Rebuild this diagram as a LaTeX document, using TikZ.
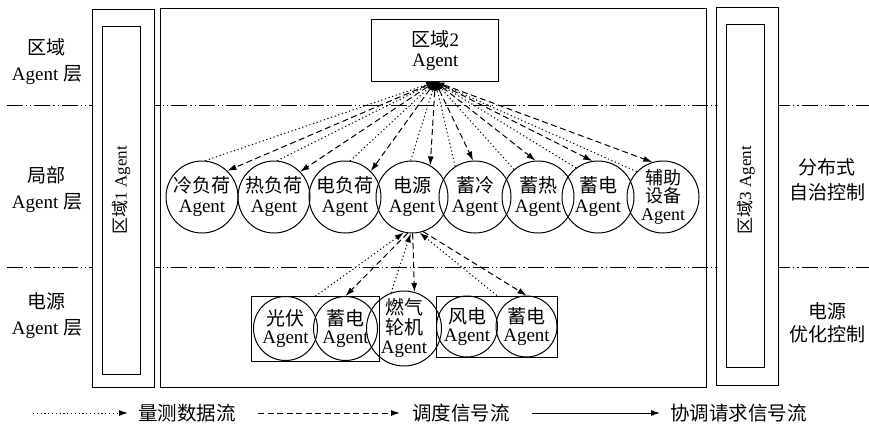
\documentclass[tikz,border=0pt]{standalone}
\usepackage{fontspec}
\setmainfont{Liberation Serif}
\newfontfamily\cjk{Noto Sans CJK SC}
\usetikzlibrary{arrows.meta}
\newcommand{\zh}[1]{{\cjk #1}}
\tikzset{
 box/.style={draw, line width=1pt, inner sep=0pt},
 wbox/.style={box, fill=white},
 agent/.style={circle, draw, line width=1pt, inner sep=0pt, minimum size=72pt, align=center, font=\fontsize{19}{20}\selectfont},
 agentsm/.style={agent, minimum size=64pt, font=\fontsize{19}{18}\selectfont},
 tipst/.style={-{Latex[length=9pt,width=6pt]}},
 meas/.style={tipst, line width=1pt, dash pattern=on 1.2pt off 2.6pt},
 disp/.style={tipst, line width=1pt, dash pattern=on 6pt off 3.5pt},
 coordl/.style={tipst, line width=1pt},
 layer/.style={line width=1pt, dash pattern=on 16pt off 3pt on 1.2pt off 3pt on 1.2pt off 3pt},
 lbl/.style={align=center, font=\fontsize{19}{26}\selectfont},
 leg/.style={anchor=west, inner sep=0pt, font=\fontsize{19.5}{20}\selectfont},
}
\begin{document}
\begin{tikzpicture}[x=1pt,y=-1pt]
\useasboundingbox (0,0) rectangle (869,425);
% central region box
\node[box, minimum width=546pt, minimum height=378pt] (zone2) at (433,198) {};
% layer separators
\draw[layer] (7,105.3) -- (869,105.3);
\draw[layer] (7,267.7) -- (869,267.7);
% side region boxes
\node[wbox, minimum width=61.3pt, minimum height=377.7pt] (z1o) at (123.35,198.15) {};
\node[box, minimum width=37.3pt, minimum height=348pt] (z1i) at (121.35,200.7) {};
\node[rotate=90, font=\fontsize{17}{20}\selectfont] (z1t) at (121.35,190) {\zh{区域}1 Agent};
\node[wbox, minimum width=61.3pt, minimum height=378.4pt] (z3o) at (747.35,196.5) {};
\node[box, minimum width=38pt, minimum height=342.7pt] (z3i) at (745.7,195.65) {};
\node[rotate=90, font=\fontsize{17}{20}\selectfont] (z3t) at (745.7,190) {\zh{区域}3 Agent};
% side labels
\node[lbl] (L1) at (47,62) {\zh{区域}\\Agent \zh{层}};
\node[lbl] (L2) at (47,190) {\zh{局部}\\Agent \zh{层}};
\node[lbl] (L3) at (47,316) {\zh{电源}\\Agent \zh{层}};
\node[lbl, font=\fontsize{19}{25}\selectfont] (R1) at (827,180) {\zh{分布式}\\\zh{自治控制}};
\node[lbl, font=\fontsize{19}{23}\selectfont] (R2) at (827,323) {\zh{电源}\\\zh{优化控制}};
% region 2 agent
\node[box, minimum width=127pt, minimum height=62pt, align=center, font=\fontsize{19}{20}\selectfont] (r2) at (435.3,50.2) {\zh{区域}2\\Agent};
% local agents
\node[agent] (c1) at (202,197) {\zh{冷负荷}\\Agent};
\node[agent] (c2) at (274,197) {\zh{热负荷}\\Agent};
\node[agent] (c3) at (345,197) {\zh{电负荷}\\Agent};
\node[agent] (dy) at (412,197) {\zh{电源}\\Agent};
\node[agent] (c5) at (475,197) {\zh{蓄冷}\\Agent};
\node[agent] (c6) at (538,197) {\zh{蓄热}\\Agent};
\node[agent] (c7) at (598,197) {\zh{蓄电}\\Agent};
\node[agent, font=\fontsize{18}{18}\selectfont] (c8) at (663,197) {\zh{辅助}\\\zh{设备}\\Agent};
% power agents
\node[box, minimum width=127.3pt, minimum height=64.3pt] (g1) at (315.35,328.85) {};
\node[box, minimum width=120.3pt, minimum height=61pt] (g2) at (496.85,326.5) {};
\node[agentsm] (pv) at (285.5,328.5) {\zh{光伏}\\Agent};
\node[agentsm] (st1) at (345.5,328.5) {\zh{蓄电}\\Agent};
\node[agentsm, font=\fontsize{19}{19.5}\selectfont] (gas) at (404,328.5) {\zh{燃气}\\\zh{轮机}\\Agent};
\node[agentsm, minimum size=61pt] (wd) at (467,326.5) {\zh{风电}\\Agent};
\node[agentsm, minimum size=61pt] (st2) at (526.5,326.5) {\zh{蓄电}\\Agent};
% fan: region 2 <-> local agents
\draw[meas] (c1.85) -- (r2.south);
\draw[disp] (r2.south) -- (c1.46);
\draw[meas] (c2.85) -- (r2.south);
\draw[disp] (r2.south) -- (c2.44);
\draw[meas] (c3.82) -- (r2.south);
\draw[disp] (r2.south) -- (c3.45);
\draw[meas] (dy.92) -- (r2.south);
\draw[disp] (r2.south) -- (dy.60);
\draw[meas] (c5.123) -- (r2.south);
\draw[disp] (r2.south) -- (c5.93);
\draw[meas] (c6.131) -- (r2.south);
\draw[disp] (r2.south) -- (c6.94);
\draw[meas] (c7.127) -- (r2.south);
\draw[disp] (r2.south) -- (c7.99);
\draw[meas] (c8.136) -- (r2.south);
\draw[disp] (r2.south) -- (c8.107);
% power agents <-> 电源 agent
\draw[meas] (g1.north) -- (dy.-103);
\draw[disp] (dy.-97) -- (st1.north);
\draw[meas] (gas.110) -- (dy.-92);
\draw[disp] (dy.-89) -- (gas.74);
\draw[meas] (g2.north) -- (dy.-78);
\draw[disp] (dy.-72) -- (st2.north);
% legend
\coordinate (m0) at (33,413); \coordinate (m1) at (128,413);
\draw[meas] (m0) -- (m1);
\node[leg] (mt) at (138,413) {\zh{量测数据流}};
\coordinate (d0) at (258,413); \coordinate (d1) at (400,413);
\draw[disp] (d0) -- (d1);
\node[leg] (dt) at (412,413) {\zh{调度信号流}};
\coordinate (s0) at (532,413); \coordinate (s1) at (660,413);
\draw[coordl] (s0) -- (s1);
\node[leg] (st) at (670,413) {\zh{协调请求信号流}};
\end{tikzpicture}
\end{document}
